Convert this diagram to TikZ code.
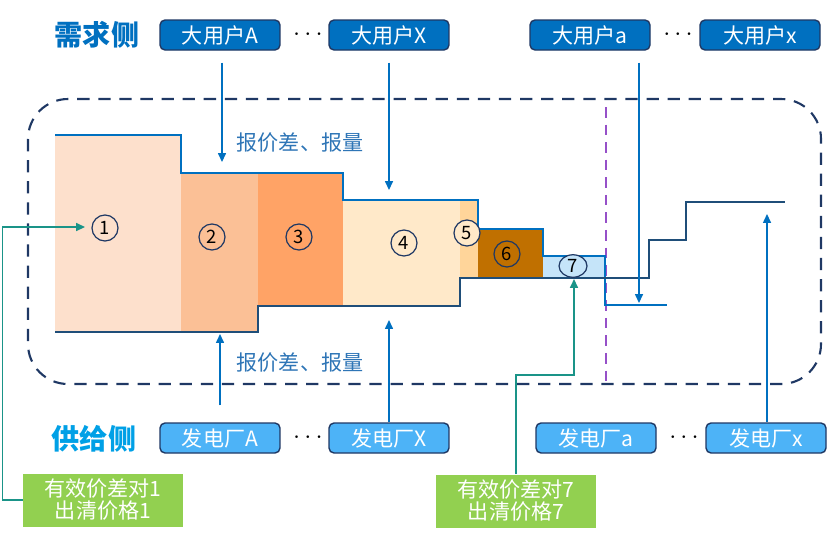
\documentclass[tikz,border=0pt]{standalone}
\usepackage{fontspec}
\setmainfont{Noto Sans CJK SC}
\usetikzlibrary{arrows.meta,shapes.geometric}

\definecolor{userblue}{HTML}{0070C0}
\definecolor{plantblue}{HTML}{4DB3F7}
\definecolor{navy}{HTML}{1F3864}
\definecolor{supplyline}{HTML}{1F4E79}
\definecolor{titleblue}{HTML}{00A0E6}
\definecolor{labelblue}{HTML}{2E75B6}
\definecolor{resgreen}{HTML}{92D050}
\definecolor{teal}{HTML}{1A9488}
\definecolor{splitpurple}{HTML}{9650C8}
\definecolor{areaA}{HTML}{FDE0CC}
\definecolor{areaB}{HTML}{FBC096}
\definecolor{areaC}{HTML}{FFA366}
\definecolor{areaD}{HTML}{FFE9C9}
\definecolor{areaE}{HTML}{FFD59A}
\definecolor{areaF}{HTML}{C07000}
\definecolor{areaG}{HTML}{C5E4F9}

\begin{document}
\begin{tikzpicture}[x=0.02cm, y=-0.02cm, >={Triangle[width=4.5pt,length=5pt]},
    userbox/.style={draw=navy, line width=0.8pt, fill=userblue, text=white, rounded corners=0.1cm,
        minimum width=2.4cm, minimum height=0.6cm, inner sep=0pt, font=\fontsize{12}{14}\selectfont},
    plantbox/.style={userbox, fill=plantblue},
    resultbox/.style={fill=resgreen, text=white, minimum width=3.2cm, minimum height=1.06cm,
        inner sep=0pt, align=center, font=\fontsize{12}{12.5}\selectfont},
    sidetitle/.style={font=\fontsize{16}{18}\selectfont\bfseries},
    numtag/.style={circle, draw=navy, line width=0.7pt, minimum size=0.52cm, inner sep=0pt,
        font=\fontsize{10.5}{12}\selectfont},
    moredots/.style={font=\fontsize{15}{16}\selectfont},
    flow/.style={->, userblue, line width=0.7pt},
    link/.style={->, teal, line width=0.8pt},
    quote/.style={labelblue, font=\fontsize{12}{14}\selectfont}]
\useasboundingbox (0,0) rectangle (827,542);

%% 各出清区块
\fill[areaA] (55,135) rectangle (181,332);
\fill[areaB] (181,173) rectangle (258,332);
\fill[areaC] (258,173) rectangle (343,306);
\fill[areaD] (343,200) rectangle (460,306);
\fill[areaE] (460,200) rectangle (478,278);
\fill[areaF] (478,229) rectangle (543,278);
\fill[areaG] (543,256) rectangle (605,278);

%% 虚线框与分界线
\draw[navy, line width=1.2pt, dash pattern=on 7pt off 5pt, rounded corners=0.8cm] (28,99) rectangle (821,384);
\draw[splitpurple, line width=1.2pt, dash pattern=on 6pt off 4pt] (606,107) -- (606,384);

%% 需求曲线与供给曲线
\draw[userblue, line width=1.3pt] (55,135) -| (181,173) -| (343,200) -| (478,229) -| (543,256) -| (605,305) -- (667,305);
\draw[supplyline, line width=1.3pt] (55,332) -| (258,306) -| (460,278) -| (649,240) -| (686,202) -- (785,202);

%% 编号
\foreach \n/\xy in {1/{105,228}, 2/{212,237}, 3/{299,237}, 4/{404,243}, 6/{507,254}}
{
    \node[numtag] (tag\n) at (\xy) {\n};
}
\node[numtag, fill=areaD] (tag5) at (467,233) {5};
\node[numtag, ellipse, fill=areaG, minimum width=0.56cm, minimum height=0.45cm] (tag7) at (573,266) {7};

%% 需求侧
\node[sidetitle, text=userblue] (demand) at (97,35) {需求侧};
\node[userbox] (userA) at (220,35) {大用户A};
\node[moredots] (dotsU1) at (308,35) {$\cdots$};
\node[userbox] (userX) at (389,35) {大用户X};
\node[userbox] (usera) at (590,35) {大用户a};
\node[moredots] (dotsU2) at (678,35) {$\cdots$};
\node[userbox] (userx) at (760,35) {大用户x};

%% 供给侧
\node[sidetitle, text=titleblue] (supply) at (94,439) {供给侧};
\node[plantbox] (plantA) at (220,438) {发电厂A};
\node[moredots] (dotsP1) at (308,438) {$\cdots$};
\node[plantbox] (plantX) at (389,438) {发电厂X};
\node[plantbox] (planta) at (596,438) {发电厂a};
\node[moredots] (dotsP2) at (684,438) {$\cdots$};
\node[plantbox] (plantx) at (766,438) {发电厂x};

\node[quote] (bidU) at (300,143) {报价差、报量};
\node[quote] (bidP) at (300,363) {报价差、报量};

%% 报价箭头
\coordinate (hitA) at (222,162);
\coordinate (hitX) at (389,190);
\coordinate (hita) at (639,303);
\coordinate (hitPA) at (220,334);
\coordinate (hitPX) at (389,320);
\coordinate (hitPx) at (767,214);
\draw[flow] (hitA |- userA.south) ++(0,12) -- (hitA);
\draw[flow] (hitX |- userX.south) ++(0,12) -- (hitX);
\draw[flow] (hita |- usera.south) ++(0,12) -- (hita);
\draw[flow] (hitPA |- plantA.north) ++(0,-17) -- (hitPA);
\draw[flow] (hitPX |- plantX.north) -- (hitPX);
\draw[flow] (hitPx |- plantx.north) -- (hitPx);

%% 出清结果
\node[resultbox] (res1) at (103,500) {有效价差对1\\出清价格1};
\node[resultbox] (res7) at (516,501) {有效价差对7\\出清价格7};
\coordinate (hit1) at (85,227);
\coordinate (hit7) at (574,279);
\draw[link] (res1.west) -- ++(-20,0) |- (hit1);
\draw[link] (res7.north) -- ++(0,-99) -| (hit7);

\end{tikzpicture}
\end{document}
